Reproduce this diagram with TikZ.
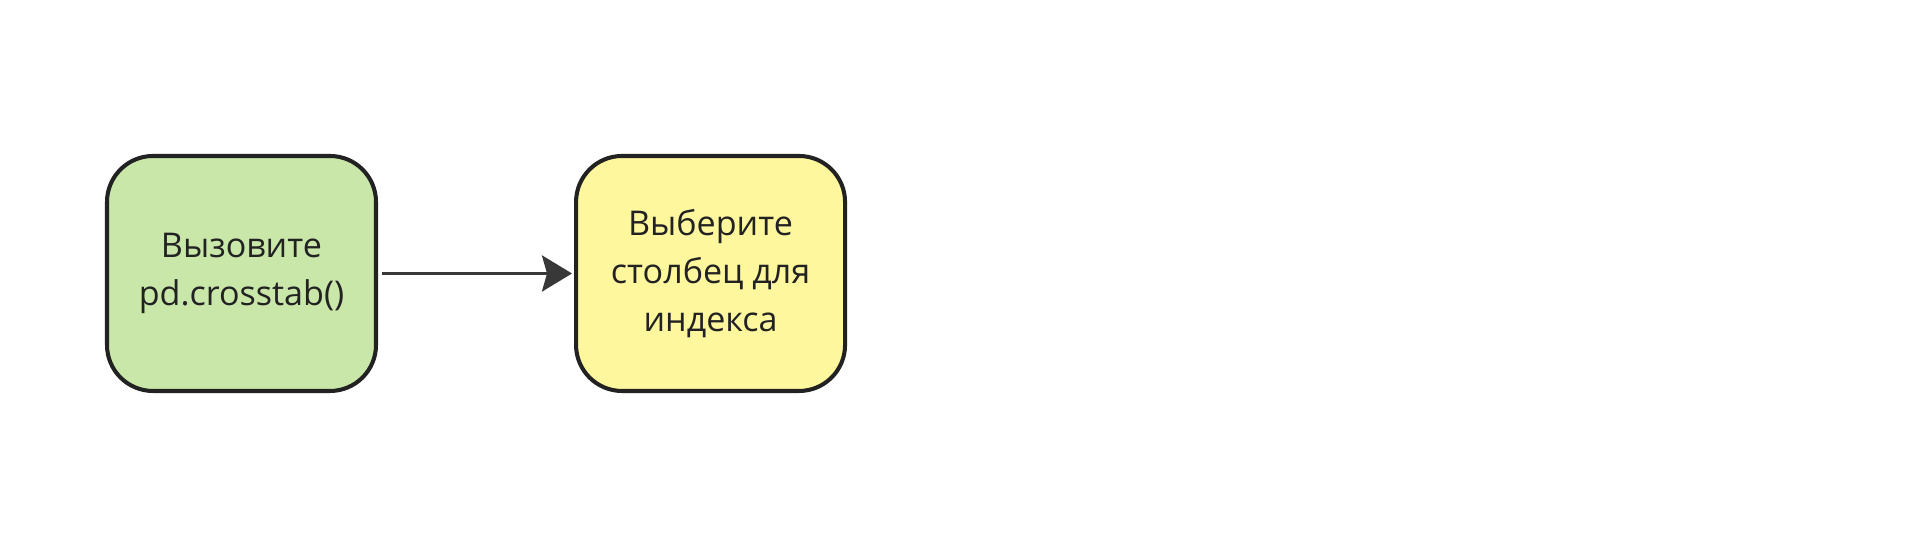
\documentclass[tikz,border=0pt]{standalone}
\usepackage{fontspec}
\setmainfont{Open Sans}
\usetikzlibrary{positioning,arrows.meta}

\definecolor{callgreen}{HTML}{C9E7A9}
\definecolor{pickyellow}{HTML}{FEF79E}
\definecolor{inkgray}{HTML}{222222}

\begin{document}
\begin{tikzpicture}[stepbox/.style={rectangle,rounded corners=0.46cm,draw=inkgray,line width=1.15pt,minimum width=2.69cm,minimum height=2.35cm,align=center,font=\fontsize{9.7}{13.7}\selectfont,text=inkgray}]
        \useasboundingbox (0,0) rectangle (19.12,5.44);
        \node[stepbox,fill=callgreen] (call) at (2.415,2.705) {Вызовите\\pd.crosstab()};
        \node[stepbox,fill=pickyellow] (pick) [right=1.96cm of call] {Выберите\\столбец для\\индекса};

        \draw[-{Stealth[length=0.3cm,width=0.36cm,inset=0.05cm]},line width=1pt,draw=inkgray!90,fill=inkgray!90] ([xshift=0.04cm]call.east) -- ([xshift=-0.02cm]pick.west);
    \end{tikzpicture}
\end{document}
